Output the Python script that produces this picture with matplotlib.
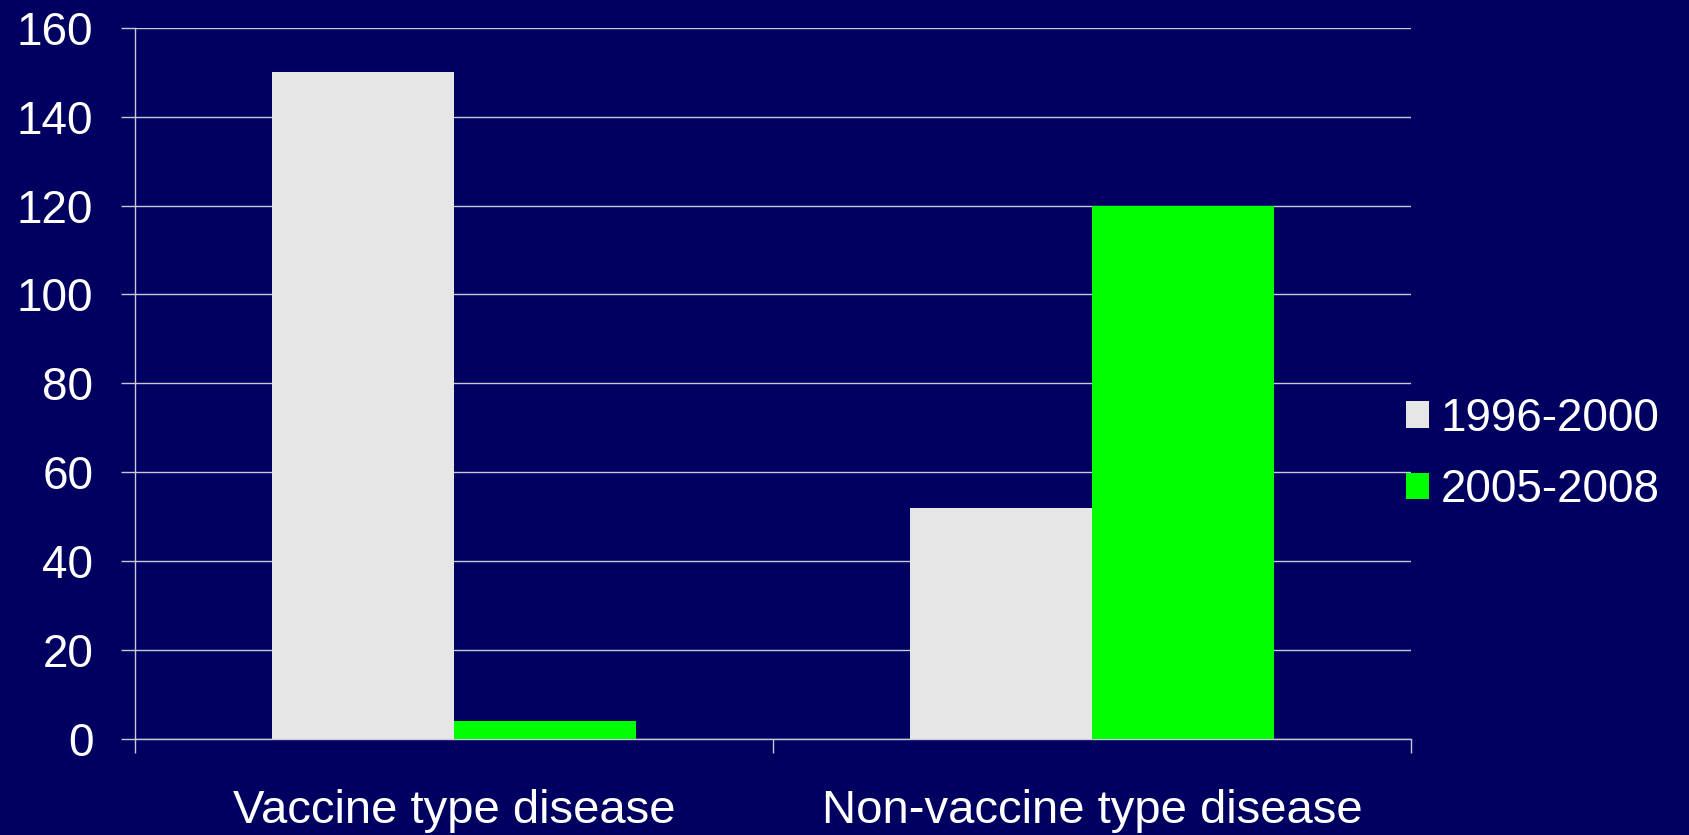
import numpy as np
import matplotlib.pyplot as plt

# data
categories = ['Vaccine type disease', 'Non-vaccine type disease']
series_names = ['1996-2000', '2005-2008']
vals_1996_2000 = [150, 52]
vals_2005_2008 = [4, 120]
y_ticks = [0, 20, 40, 60, 80, 100, 120, 140, 160]

bg = '#000060'
plt.rcParams['font.family'] = ['Liberation Sans', 'DejaVu Sans']

fig = plt.figure(figsize=(16.89, 8.35), dpi=100, facecolor=bg)
ax = fig.add_axes([0.0799, 0.115, 0.7555, 0.8517], facecolor=bg)

x = np.arange(len(categories))
w = 1 / 3.5  # excel gap width 150%
ax.bar(x - w / 2, vals_1996_2000, w, color='#e6e6e6', label=series_names[0], zorder=3)
ax.bar(x + w / 2, vals_2005_2008, w, color='#00ff00', label=series_names[1], zorder=3)

ax.set_xlim(-0.5, len(categories) - 0.5)
ax.set_ylim(0, 160)
ax.set_yticks(y_ticks)
ax.yaxis.grid(True, color='#c8c8d8', linewidth=1.0, zorder=0)

for s in ['top', 'right']:
    ax.spines[s].set_visible(False)
for s in ['left', 'bottom']:
    ax.spines[s].set_color('#c8c8d8')
    ax.spines[s].set_linewidth(1.0)

ax.tick_params(axis='y', colors='#c8c8d8', labelcolor='white', labelsize=33,
               length=10, width=1.0, pad=20)

# category labels on major ticks, boundary tick marks as minor ticks
ax.set_xticks(x)
ax.set_xticklabels(categories)
ax.set_xticks(np.arange(len(categories) + 1) - 0.5, minor=True)
ax.tick_params(axis='x', which='major', length=0, labelcolor='white', labelsize=34, pad=36)
ax.tick_params(axis='x', which='minor', length=10, width=1.0, color='#c8c8d8')

leg = ax.legend(loc='center left', bbox_to_anchor=(0.996, 0.40), frameon=False,
                fontsize=33, labelcolor='white', handlelength=0.5, handleheight=0.5,
                handletextpad=0.26, labelspacing=0.6, borderaxespad=0, borderpad=0)

fig.savefig('out.png', dpi=100, facecolor=bg)
